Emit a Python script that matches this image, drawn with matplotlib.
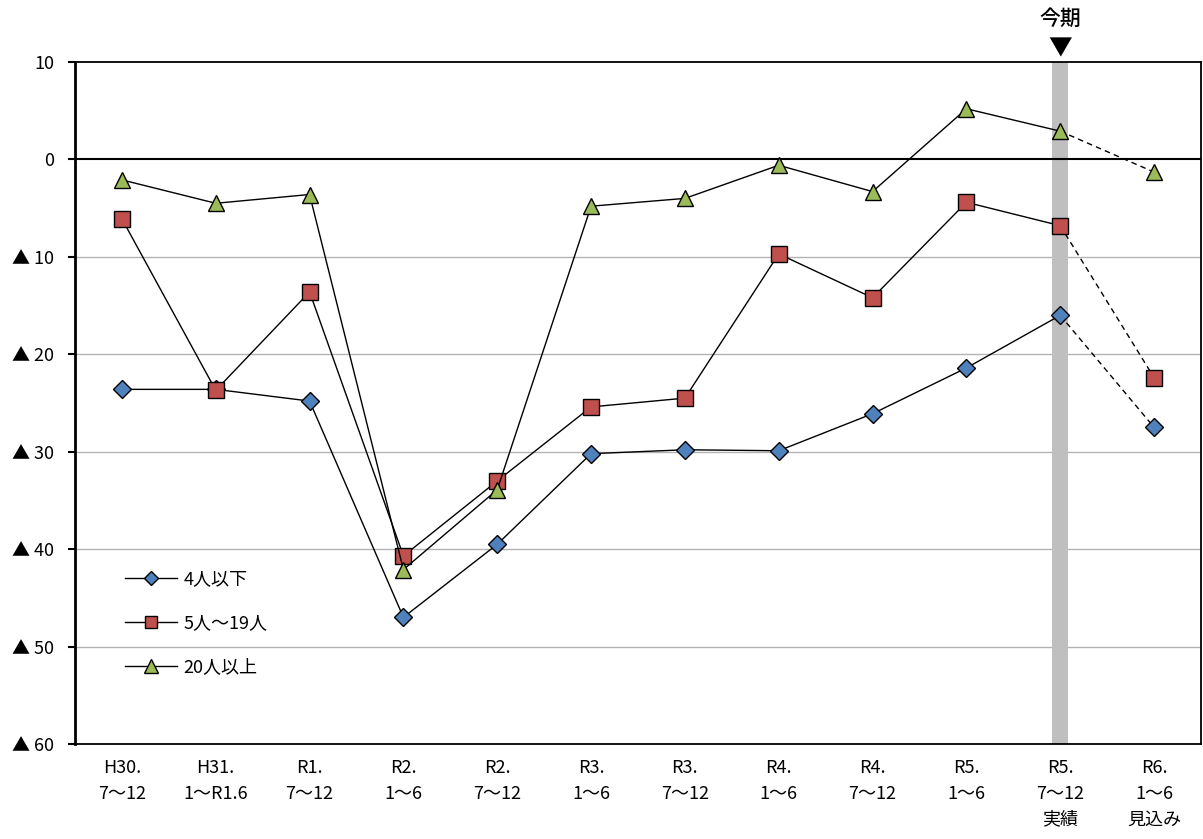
import matplotlib
matplotlib.use("Agg")
import matplotlib.pyplot as plt
from matplotlib.lines import Line2D

plt.rcParams['font.family'] = ['Noto Sans CJK JP', 'DejaVu Sans']

categories = ["H30.\n7～12", "H31.\n1～R1.6", "R1.\n7～12", "R2.\n1～6", "R2.\n7～12",
              "R3.\n1～6", "R3.\n7～12", "R4.\n1～6", "R4.\n7～12", "R5.\n1～6",
              "R5.\n7～12\n実績", "R6.\n1～6\n見込み"]
small = [-23.6, -23.6, -24.8, -47.0, -39.5, -30.2, -29.8, -29.9, -26.1, -21.4, -16.0, -27.5]
medium = [-6.1, -23.7, -13.6, -40.7, -33.0, -25.4, -24.5, -9.7, -14.2, -4.4, -6.8, -22.4]
large = [-2.1, -4.5, -3.6, -42.1, -33.9, -4.8, -4.0, -0.6, -3.3, 5.2, 2.9, -1.3]
series_names = ["4人以下", "5人～19人", "20人以上"]
y_ticks = [10, 0, -10, -20, -30, -40, -50, -60]
y_tick_labels = ["10", "0", "▲ 10", "▲ 20", "▲ 30", "▲ 40", "▲ 50", "▲ 60"]
current_index = 10

fig = plt.figure(figsize=(12.03, 8.39), dpi=100)
ax = fig.add_axes([75 / 1203, 1 - 744 / 839, 1126 / 1203, (744 - 62) / 839])

x = list(range(len(categories)))

# current-period band
ax.axvspan(current_index - 0.085, current_index + 0.085, color="#bfbfbf", zorder=0.5, lw=0)

# gridlines and zero line
for yv in y_ticks:
    if yv == 0:
        ax.axhline(0, color="black", lw=1.5, zorder=1)
    elif yv not in (10, -60):
        ax.axhline(yv, color="#b3b3b3", lw=1.0, zorder=0.4)

styles = [
    (small, "D", "#4f81bd", 9.5),
    (medium, "s", "#c0504d", 11.5),
    (large, "^", "#9bbb59", 12),
]
handles = []
for (vals, mk, col, ms), name in zip(styles, series_names):
    ax.plot(x[:current_index + 1], vals[:current_index + 1], color="black", lw=1.0,
            marker=mk, ms=ms, mfc=col, mec="black", mew=1.0, zorder=3)
    ax.plot(x[current_index:], vals[current_index:], color="black", lw=1.0,
            ls=(0, (4, 3)), zorder=2.5)
    ax.plot(x[-1:], vals[-1:], ls="none", marker=mk, ms=ms, mfc=col, mec="black",
            mew=1.0, zorder=3)
    handles.append(Line2D([], [], color="black", lw=1.0, marker=mk, ms=ms * 0.8,
                          mfc=col, mec="black", mew=1.0))

ax.set_xlim(-0.5, len(categories) - 0.5)
ax.set_ylim(-60, 10)
ax.set_yticks(y_ticks)
ax.set_yticklabels(y_tick_labels, fontsize=13)
ax.set_xticks(x)
ax.set_xticklabels(categories, fontsize=13, linespacing=1.55)
ax.tick_params(axis="x", length=0, pad=11)
ax.tick_params(axis="y", length=5, width=1.5, direction="out", pad=10)
for s in ax.spines.values():
    s.set_linewidth(1.3)
ax.spines["left"].set_linewidth(2)

ax.legend(handles, series_names, loc="upper left", bbox_to_anchor=(0.03, 0.279),
          frameon=False, fontsize=13, handlelength=2.9, labelspacing=1.45,
          handletextpad=0.35)

# current-period marker above the axes
ax.annotate("▼", xy=(current_index, 10), xycoords="data", xytext=(0, 1),
            textcoords="offset points", ha="center", va="bottom", fontsize=17,
            annotation_clip=False)
ax.annotate("今期", xy=(current_index, 10), xycoords="data", xytext=(0, 23),
            textcoords="offset points", ha="center", va="bottom", fontsize=15,
            fontweight="medium", annotation_clip=False)

fig.savefig("out.png", dpi=100)
